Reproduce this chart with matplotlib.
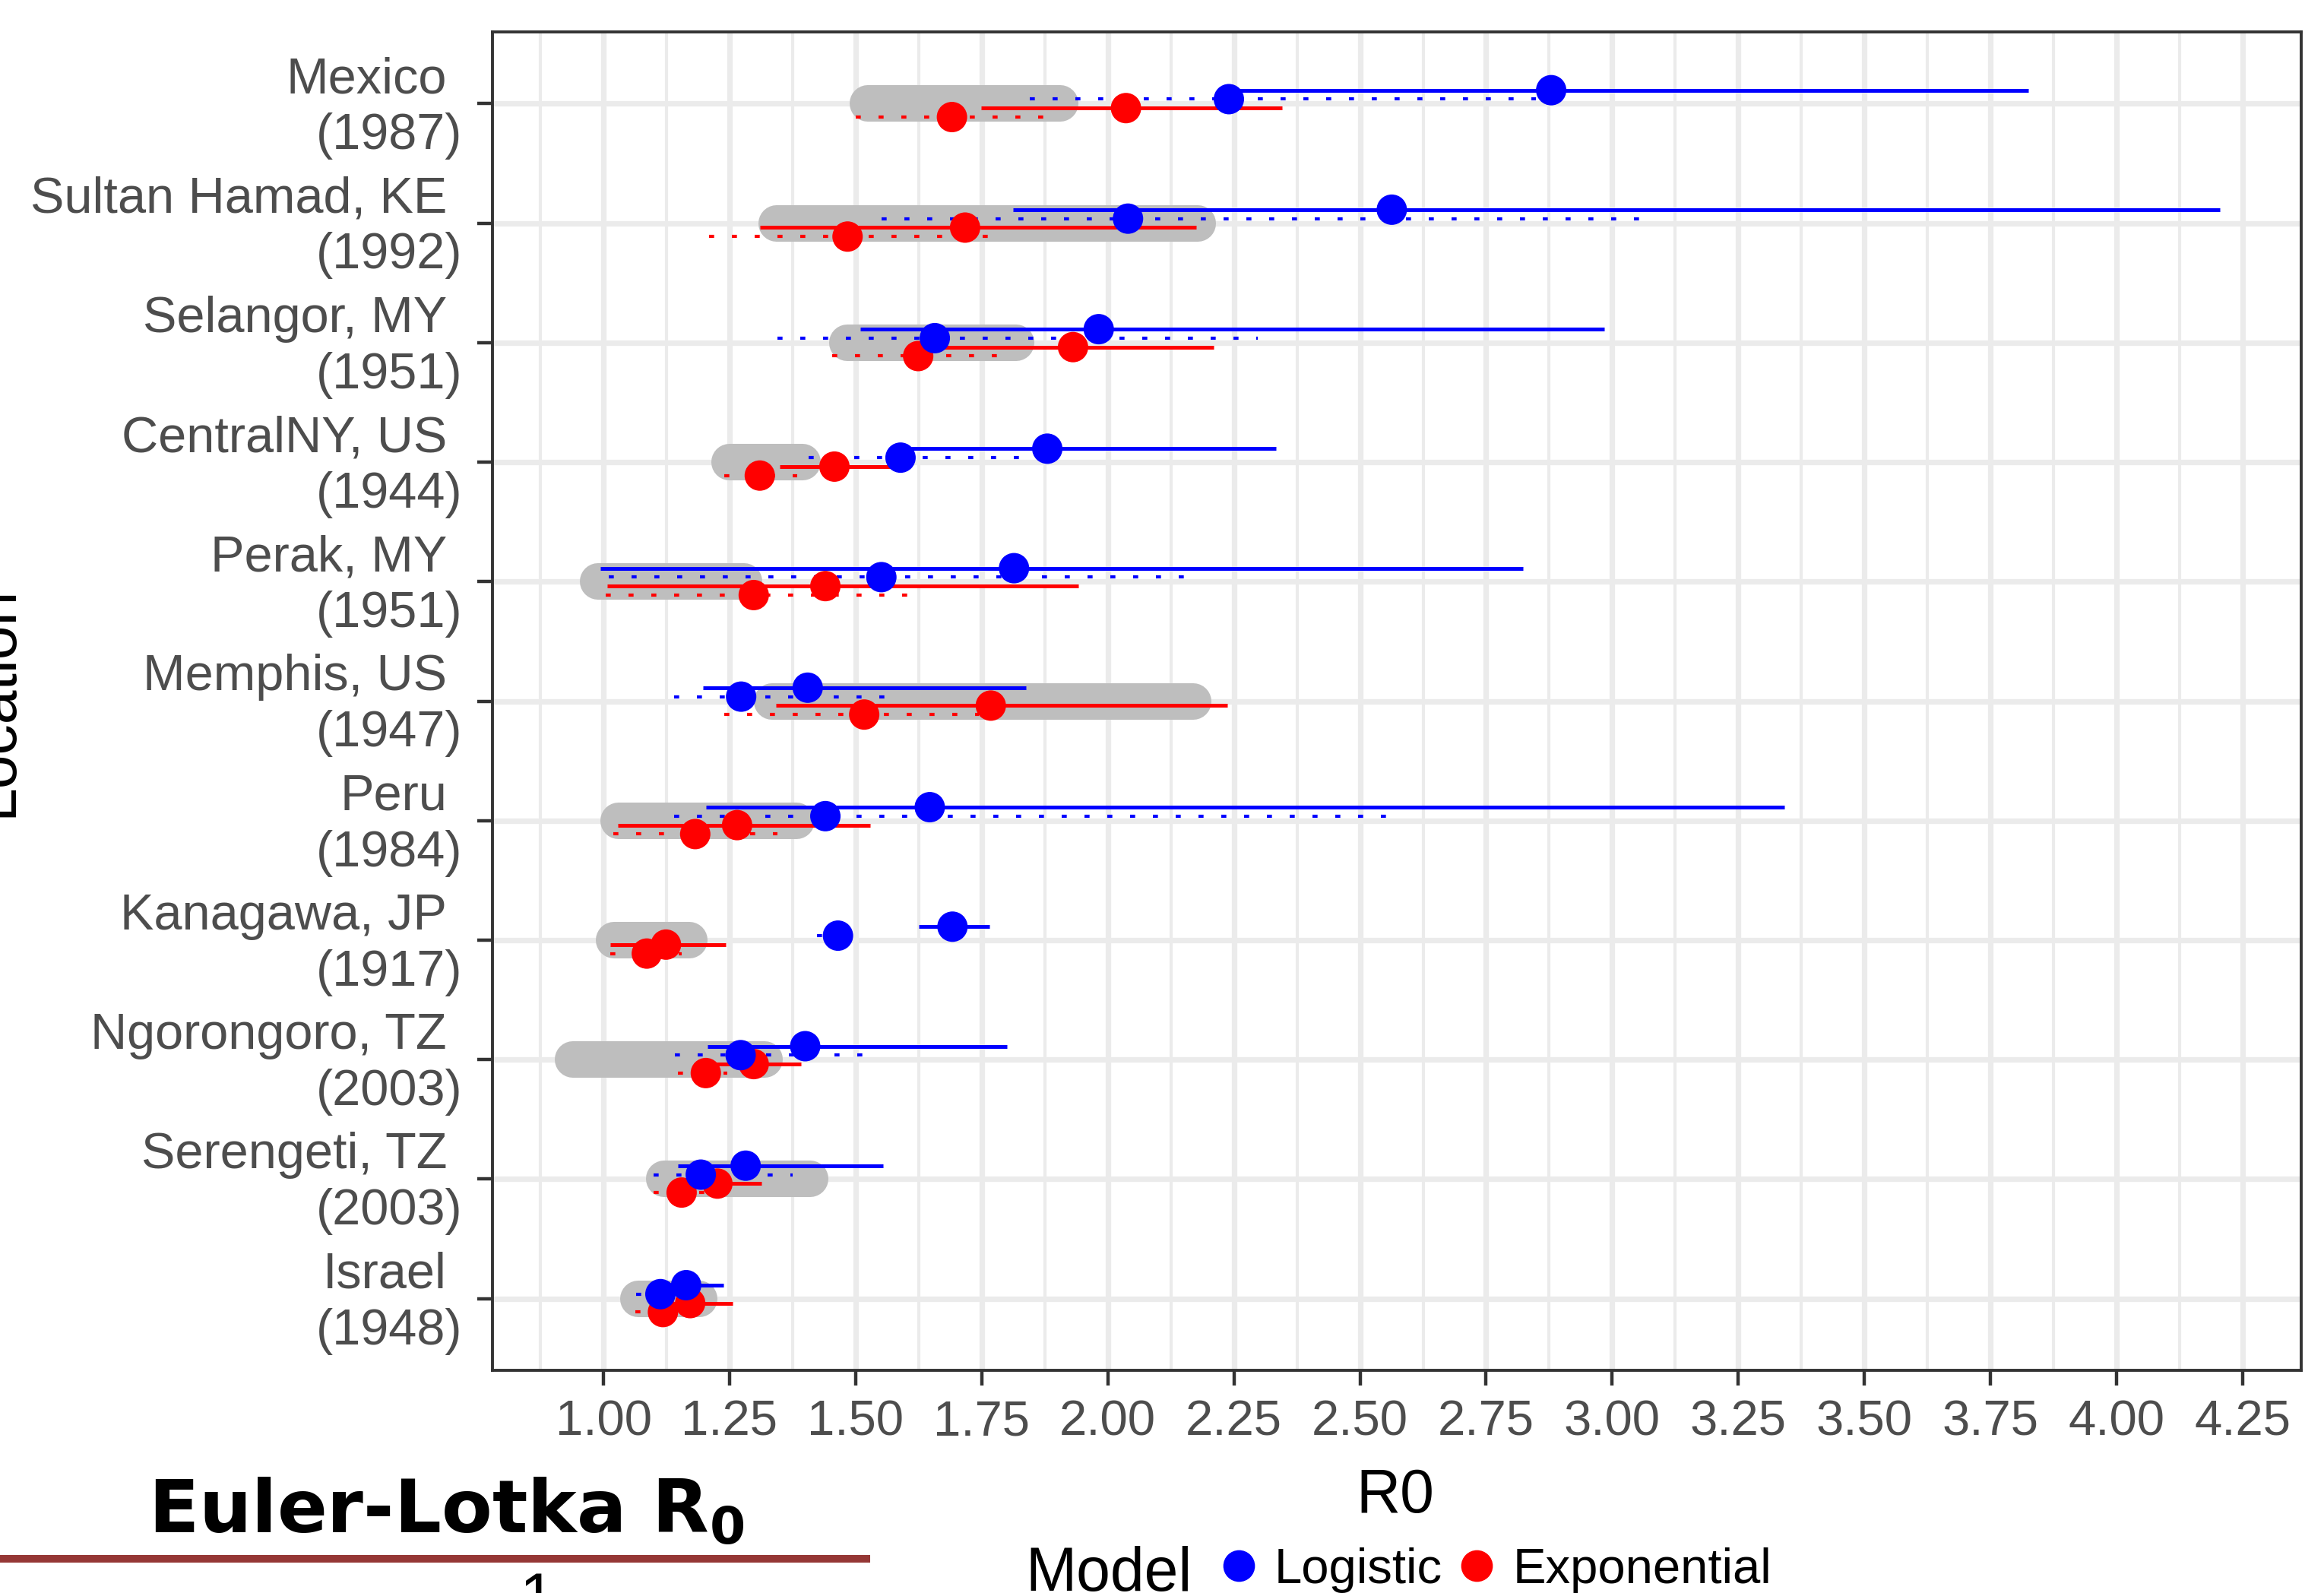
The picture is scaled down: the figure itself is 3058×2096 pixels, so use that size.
import matplotlib
matplotlib.use("Agg")
import matplotlib.pyplot as plt
from matplotlib.lines import Line2D
from matplotlib.ticker import FixedLocator
import numpy as np

plt.rcParams['font.family'] = ['Liberation Sans', 'DejaVu Sans']

W, H = 3058, 2096

# ---------------- data ----------------
locations = ["Mexico", "Sultan Hamad, KE", "Selangor, MY", "CentralNY, US", "Perak, MY",
             "Memphis, US", "Peru", "Kanagawa, JP", "Ngorongoro, TZ", "Serengeti, TZ", "Israel"]
years = ["1987", "1992", "1951", "1944", "1951", "1947", "1984", "1917", "2003", "2003", "1948"]

# Logistic model, solid interval
logistic_a_est = [2.879, 2.563, 1.982, 1.880, 1.814, 1.405, 1.647, 1.692, 1.400, 1.282, 1.164]
logistic_a_lo = [2.250, 1.812, 1.510, 1.593, 0.994, 1.198, 1.203, 1.626, 1.206, 1.147, 1.130]
logistic_a_hi = [3.825, 4.205, 2.984, 2.333, 2.823, 1.838, 3.342, 1.766, 1.800, 1.555, 1.238]
# Logistic model, dotted interval
logistic_b_est = [2.240, 2.040, 1.657, 1.589, 1.551, 1.273, 1.440, 1.465, 1.272, 1.193, 1.113]
logistic_b_lo = [1.845, 1.552, 1.345, 1.407, 1.010, 1.140, 1.140, 1.424, 1.141, 1.100, 1.065]
logistic_b_hi = [2.849, 3.054, 2.297, 1.826, 2.156, 1.559, 2.558, 1.513, 1.514, 1.375, 1.150]
# Exponential model, solid interval
exponential_a_est = [2.036, 1.717, 1.931, 1.458, 1.440, 1.768, 1.265, 1.124, 1.298, 1.226, 1.172]
exponential_a_lo = [1.749, 1.310, 1.640, 1.349, 1.008, 1.342, 1.029, 1.013, 1.200, 1.160, 1.120]
exponential_a_hi = [2.345, 2.175, 2.210, 1.570, 1.942, 2.237, 1.529, 1.243, 1.391, 1.314, 1.256]
# Exponential model, dotted interval
exponential_b_est = [1.691, 1.484, 1.624, 1.310, 1.298, 1.517, 1.182, 1.086, 1.203, 1.155, 1.118]
exponential_b_lo = [1.500, 1.210, 1.454, 1.240, 1.005, 1.240, 1.019, 1.014, 1.148, 1.100, 1.063]
exponential_b_hi = [1.877, 1.763, 1.782, 1.384, 1.605, 1.744, 1.345, 1.155, 1.245, 1.200, 1.160]
# Euler-Lotka range (grey band)
euler_lotka_lo = [1.524, 1.343, 1.483, 1.250, 0.989, 1.334, 1.030, 1.021, 0.940, 1.120, 1.070]
euler_lotka_hi = [1.906, 2.178, 1.818, 1.395, 1.279, 2.169, 1.383, 1.170, 1.320, 1.410, 1.190]

x_ticks = [1.00, 1.25, 1.50, 1.75, 2.00, 2.25, 2.50, 2.75, 3.00, 3.25, 3.50, 3.75, 4.00, 4.25]
x_minor = [0.875, 1.125, 1.375, 1.625, 1.875, 2.125, 2.375, 2.625, 2.875, 3.125, 3.375,
           3.625, 3.875, 4.125]
legend_labels = ["Logistic", "Exponential"]

# ---------------- figure ----------------
fig = plt.figure(figsize=(W / 100, H / 100), dpi=100)
ax = fig.add_axes([648 / W, 1 - 1803 / H, 2380 / W, 1761 / H])

n = len(locations)
ypos = np.arange(n)[::-1].astype(float)

ax.set_xlim(0.78, 4.366)
ax.set_ylim(-0.6, n - 1 + 0.6)

# grid
ax.set_axisbelow(True)
ax.xaxis.set_minor_locator(FixedLocator(x_minor))
ax.grid(which='major', color='#EBEBEB', linewidth=5.2, zorder=0)
ax.grid(which='minor', axis='x', color='#EBEBEB', linewidth=3.0, zorder=0)

# grey Euler-Lotka band
ax.hlines(ypos, euler_lotka_lo, euler_lotka_hi, colors='#BEBEBE', linewidth=34.6,
          capstyle='round', zorder=2)

dotted = (0, (1.6, 5.6))
series = [
    (logistic_a_lo, logistic_a_hi, logistic_a_est, 0.1125, '#0000FF', 'solid'),
    (logistic_b_lo, logistic_b_hi, logistic_b_est, 0.0375, '#0000FF', dotted),
    (exponential_a_lo, exponential_a_hi, exponential_a_est, -0.0375, '#FF0000', 'solid'),
    (exponential_b_lo, exponential_b_hi, exponential_b_est, -0.1125, '#FF0000', dotted),
]
for lo, hi, est, off, col, ls in series:
    lw = 3.6 if ls == 'solid' else 3.0
    ax.hlines(ypos + off, lo, hi, colors=col, linewidth=lw, linestyles=ls, zorder=3)

for lo, hi, est, off, col, ls in series[::-1]:
    z = 5 if col == '#0000FF' else 4
    ax.scatter(est, ypos + off, s=28.8 ** 2, color=col, edgecolors='none', zorder=z)

# x ticks
ax.set_xticks(x_ticks)
ax.set_xticklabels([f"{t:.2f}" for t in x_ticks])
ax.tick_params(axis='x', which='major', length=14.4, width=3.2, color='#333333',
               labelsize=47, labelcolor='#4D4D4D', pad=13)
ax.tick_params(axis='x', which='minor', length=0)

# y ticks: location name (with trailing space) on the major tick, year on a second line
ax.set_yticks(ypos)
ax.set_yticklabels(locations, va='bottom')
ax.tick_params(axis='y', which='major', length=14.4, width=3.2, color='#333333',
               labelsize=48, labelcolor='#4D4D4D', pad=28.8)
ax.set_yticks(ypos - 0.381, labels=[f"({yr})" for yr in years], minor=True, va='baseline')
ax.tick_params(axis='y', which='minor', length=0, labelsize=48, labelcolor='#4D4D4D',
               pad=28.8)

for sp in ax.spines.values():
    sp.set_color('#333333')
    sp.set_linewidth(2.8)

# axis titles
ax.set_xlabel('R0', fontsize=58, color='black')
ax.xaxis.set_label_coords(0.5 + (1836 - 1838) / 2380, -(1990 - 1803) / 1761)
ax.xaxis.label.set_va('baseline')

ax.set_ylabel('Location', fontsize=58, color='black')
ax.yaxis.set_label_coords((15.6 - 648) / 2380, 0.5)
ax.yaxis.label.set_va('baseline')

# legend
handles = [Line2D([], [], marker='o', ls='', color='#0000FF', markersize=30, markeredgewidth=0),
           Line2D([], [], marker='o', ls='', color='#FF0000', markersize=30, markeredgewidth=0)]
fig.text(1349 / W, 1 - 2093 / H, 'Model', fontsize=58, ha='left', va='baseline')
fig.legend(handles, legend_labels, loc='center left', bbox_to_anchor=(1604 / W, 1 - 2066 / H),
           ncol=2, frameon=False, fontsize=47, handlelength=0.8, handletextpad=0.32,
           columnspacing=0.29, borderpad=0, borderaxespad=0)

# overlay from slide
fig.text(195 / W, 1 - 2017 / H, r'Euler-Lotka R$_\mathbf{0}$', fontsize=70, fontweight='bold',
         family='DejaVu Sans', ha='left', va='baseline', color='black')
fig.add_artist(Line2D([0, 1145 / W], [1 - 2051 / H, 1 - 2051 / H], color='#953735',
                      linewidth=7.2, solid_capstyle='butt', transform=fig.transFigure))
fig.text(707 / W, 1 - 2128 / H, '1', fontsize=60, ha='center', va='baseline', color='black')

fig.savefig('out.png', dpi=100)
